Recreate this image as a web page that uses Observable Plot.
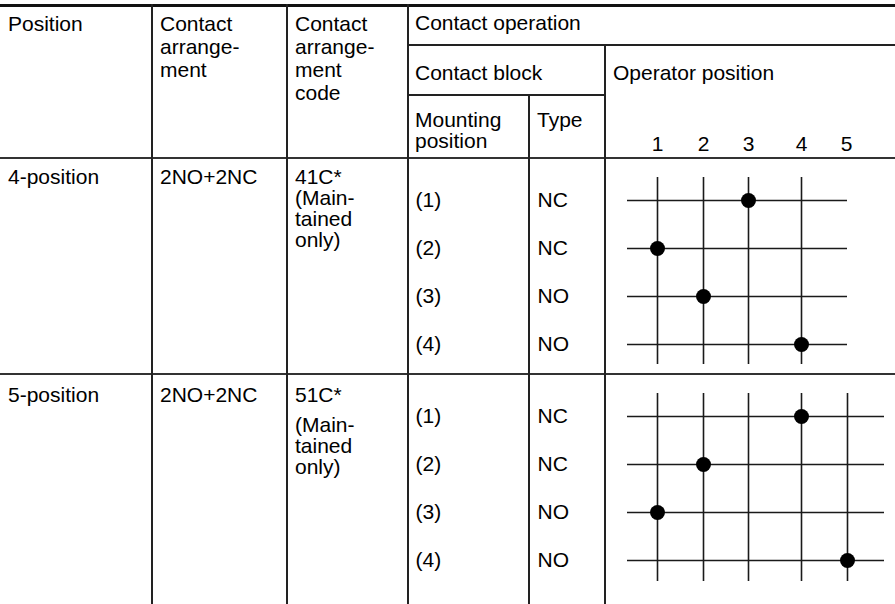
<!DOCTYPE html>
<html><head><meta charset="utf-8">
<script src="https://cdn.jsdelivr.net/npm/d3@7"></script>
<script src="https://cdn.jsdelivr.net/npm/@observablehq/plot@0.6"></script>
<style>
html,body{margin:0;padding:0;background:#fff;}
#chart{position:relative;width:895px;height:604px;overflow:hidden;font-family:"Liberation Sans",Arial,Helvetica,sans-serif;font-size:21px;color:#000;}
.t{position:absolute;white-space:pre;line-height:21px;}
.ln{position:absolute;background:#222;}
#chart svg{position:absolute;}
#chart svg text{font-family:"Liberation Sans",Arial,Helvetica,sans-serif;font-size:21px;fill:#000;}
</style></head><body><div id="chart"></div>
<script>
// ---- data ----
const operatorPositions = [1, 2, 3, 4, 5];
const mountingPositions = ["(1)", "(2)", "(3)", "(4)"];
const contactTypes = ["NC", "NC", "NO", "NO"];
const switchPositions = ["4-position", "5-position"];
const contactArrangements = ["2NO+2NC", "2NO+2NC"];
const arrangementCodes = ["41C*", "51C*"];
const codeNotes = [["(Main-", "tained", "only)"], ["(Main-", "tained", "only)"]];
const stops = [[1, 2, 3, 4], [1, 2, 3, 4, 5]];           // operator positions available per switch
const closedAt = [[3, 1, 2, 4], [4, 2, 1, 5]];           // operator position where each contact block is closed
const headerPosition = ["Position"];
const headerArrangement = ["Contact", "arrange-", "ment"];
const headerCode = ["Contact", "arrange-", "ment", "code"];
const headerOperation = "Contact operation";
const headerBlock = "Contact block";
const headerOperator = "Operator position";
const headerMounting = ["Mounting", "position"];
const headerType = "Type";

// ---- layout helpers ----
const chart = document.getElementById("chart");
const BASE = 17.77; // baseline offset for 21px Liberation Sans at 21px line-height
function place(x, baseline, str) {
  const d = document.createElement("div");
  d.className = "t";
  d.style.left = x + "px";
  d.style.top = (baseline - BASE) + "px";
  d.textContent = str;
  chart.appendChild(d);
}
function lines(x, baselines, arr) { arr.forEach((s, i) => place(x, baselines[i], s)); }
function rect(l, t, w, h, c) {
  const d = document.createElement("div");
  d.className = "ln";
  Object.assign(d.style, {left: l + "px", top: t + "px", width: w + "px", height: h + "px"});
  if (c) d.style.background = c;
  chart.appendChild(d);
}

// ---- operator position diagrams (Plot) ----
const frames = [
  {top: 120, height: 254, yRange: [79, 224], marginTop: 57, marginBottom: 10, marginRight: 48, xRange: [249, 295, 340, 393, 438], axis: "top"},
  {top: 374, height: 230, yRange: [42, 186], marginTop: 19, marginBottom: 23, marginRight: 11, xRange: [249, 295, 340, 393, 439], axis: null}
];
frames.forEach((F, k) => {
  const rows = mountingPositions.map((m, i) => ({mount: m, type: contactTypes[i], closed: closedAt[k][i]}));
  const svg = Plot.plot({
    width: 487, height: F.height,
    marginLeft: 219, marginRight: F.marginRight, marginTop: F.marginTop, marginBottom: F.marginBottom,
    style: {background: "transparent", fontFamily: "Liberation Sans, Arial, sans-serif", fontSize: "21px", overflow: "visible"},
    x: {type: "linear", domain: operatorPositions, range: F.xRange, axis: F.axis, ticks: operatorPositions, tickFormat: d => String(d), tickSize: 0, tickPadding: 27, label: null},
    y: {type: "point", domain: mountingPositions, range: F.yRange, padding: 0, axis: null},
    marks: [
      Plot.ruleX(stops[k], {stroke: "#1a1a1a", strokeWidth: 1.6}),
      Plot.ruleY(mountingPositions, {stroke: "#1a1a1a", strokeWidth: 1.6}),
      Plot.dot(rows, {x: "closed", y: "mount", r: 7.5, fill: "#000"}),
      Plot.text(rows, {y: "mount", text: "mount", frameAnchor: "left", dx: -212, textAnchor: "start", fontSize: 21}),
      Plot.text(rows, {y: "mount", text: "type", frameAnchor: "left", dx: -90, textAnchor: "start", fontSize: 21})
    ]
  });
  svg.style.left = "408px";
  svg.style.top = F.top + "px";
  chart.appendChild(svg);
});

// ---- table rules ----
rect(0, 4, 895, 3, "#111");
rect(408, 44, 487, 2);
rect(408, 94, 197, 2);
rect(0, 157, 895, 2, "#333");
rect(0, 373, 895, 2, "#333");
rect(151, 4, 2, 600);
rect(286, 4, 2, 600);
rect(407, 4, 2, 600);
rect(528, 94, 2, 510);
rect(604, 44, 2, 560);

// ---- header text ----
place(8, 31, headerPosition[0]);
lines(160, [31, 54, 77], headerArrangement);
lines(295, [31, 54, 77, 100], headerCode);
place(415, 30, headerOperation);
place(415, 80, headerBlock);
place(613, 80, headerOperator);
lines(415, [127, 148], headerMounting);
place(537, 127, headerType);

// ---- body text ----
const rowBase = [[184, 205, 226, 247], [402, 432, 453, 474]];
switchPositions.forEach((p, k) => {
  place(8, rowBase[k][0], p);
  place(160, rowBase[k][0], contactArrangements[k]);
  place(295, rowBase[k][0], arrangementCodes[k]);
  lines(295, rowBase[k].slice(1), codeNotes[k]);
});
</script></body></html>
